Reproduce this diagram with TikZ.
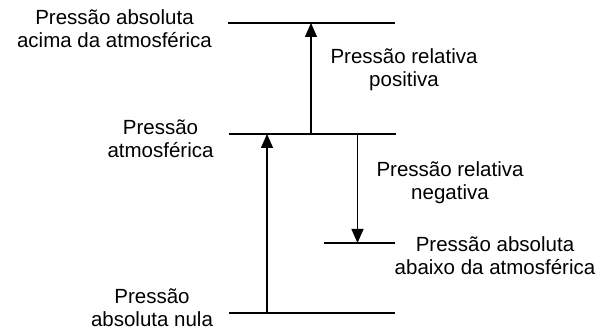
\documentclass[tikz,border=0pt]{standalone}
\usepackage{fontspec}
\setmainfont{Liberation Sans}
\usetikzlibrary{arrows.meta}
\begin{document}
\begin{tikzpicture}[x=1pt,y=1pt,
  lvl/.style={line width=1.3pt},
  arr/.style={line width=1.3pt,-{Triangle[length=14pt,width=12pt]}},
  lbl/.style={align=center,inner sep=0pt,anchor=base,font=\fontsize{20.5}{23}\selectfont}]
\useasboundingbox (0,0) rectangle (614,331);
% level lines
\coordinate (tl) at (228,308); \coordinate (tr) at (395,308);
\coordinate (ml) at (229,197); \coordinate (mr) at (396,197);
\coordinate (sl) at (324,88);  \coordinate (sr) at (395,88);
\coordinate (bl) at (229,18);  \coordinate (br) at (395,18);
\draw[lvl] (tl) -- (tr);
\draw[lvl] (ml) -- (mr);
\draw[lvl] (sl) -- (sr);
\draw[lvl] (bl) -- (br);
% arrows
\coordinate (pos0) at (311,197);
\coordinate (abs0) at (267,18);
\coordinate (neg0) at (357.5,197);
\draw[arr] (pos0) -- (pos0 |- tl);
\draw[arr] (abs0) -- (abs0 |- ml);
\draw[arr] (neg0) -- (neg0 |- sl);
% labels (anchor = baseline of last line)
\node[lbl] (a) at (114.5,283) {Pressão absoluta\\acima da atmosférica};
\node[lbl] (b) at (404,244) {Pressão relativa\\positiva};
\node[lbl] (c) at (160.5,173) {Pressão\\atmosférica};
\node[lbl] (d) at (450,131) {Pressão relativa\\negativa};
\node[lbl] (e) at (495,56) {Pressão absoluta\\abaixo da atmosférica};
\node[lbl] (f) at (152,4) {Pressão\\absoluta nula};
\end{tikzpicture}
\end{document}
